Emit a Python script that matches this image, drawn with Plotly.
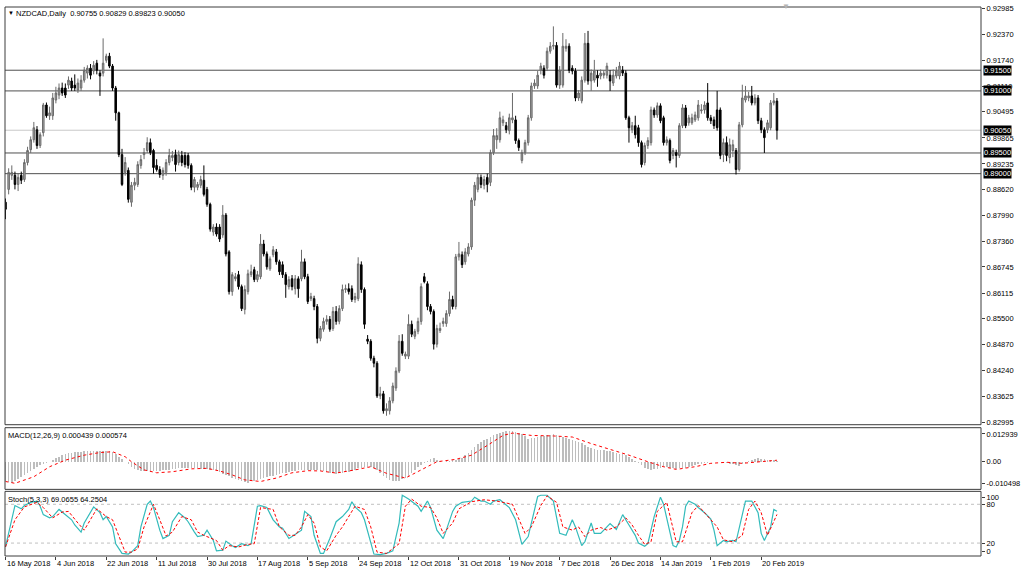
import plotly.graph_objects as go

# ---------------- data ----------------
bars = list(range(246))

open_ = [
    .8831, .8862, .8896, .8896, .8874, .8896, .8886, .8927, .8958, .8982,
    .9006, .8968, .8999, .9066, .9040, .9040, .9078, .9090, .9107, .9107,
    .9114, .9124, .9114, .9102, .9107, .9126, .9143, .9155, .9148, .9167,
    .9143, .9143, .9174, .9184, .9160, .9107, .9047, .8946, .8903, .8908,
    .8831, .8872, .8874, .8920, .8946, .8956, .8975, .8956, .8920, .8910,
    .8896, .8903, .8927, .8939, .8946, .8927, .8944, .8944, .8944, .8920,
    .8867, .8867, .8872, .8884, .8862, .8826, .8759, .8771, .8771, .8752,
    .8800, .8711, .8615, .8646, .8656, .8627, .8572, .8615, .8656, .8668,
    .8644, .8651, .8730, .8706, .8670, .8704, .8711, .8687, .8680, .8656,
    .8627, .8646, .8622, .8646, .8646, .8687, .8651, .8598, .8598, .8579,
    .8502, .8524, .8543, .8548, .8526, .8567, .8543, .8574, .8620, .8622,
    .8622, .8596, .8598, .8680, .8620, .8500, .8495, .8454, .8442, .8363,
    .8368, .8327, .8327, .8351, .8382, .8423, .8495, .8459, .8459, .8536,
    .8507, .8519, .8543, .8651, .8634, .8579, .8567, .8488, .8521, .8538,
    .8538, .8562, .8596, .8579, .8699, .8704, .8687, .8706, .8723, .8836,
    .8862, .8891, .8872, .8891, .8879, .8951, .8982, .8982, .9023, .9016,
    .9004, .9030, .9030, .8980, .8932, .8951, .8975, .9035, .9112, .9112,
    .9150, .9155, .9155, .9196, .9208, .9210, .9114, .9114, .9203, .9208,
    .9155, .9148, .9083, .9076, .9126, .9215, .9124, .9126, .9138, .9136,
    .9138, .9138, .9138, .9119, .9136, .9136, .9150, .9143, .9035, .9006,
    .9016, .9011, .8975, .8927, .8968, .8975, .9054, .9042, .9064, .9035,
    .8975, .8980, .8944, .8951, .8944, .9016, .9059, .9023, .9023, .9030,
    .9035, .9052, .9054, .9071, .9035, .9030, .9054, .9054, .8946, .8975,
    .8939, .8956, .8956, .8910, .9018, .9078, .9083, .9088, .9071, .9083,
    .9028, .9006, .9006, .9011, .9071, .90755,
]
high = [
    .8840, .8913, .8920, .8905, .8900, .8905, .8935, .8965, .8990, .9025,
    .9015, .9000, .9071, .9072, .9062, .9095, .9110, .9118, .9120, .9118,
    .9135, .9132, .9140, .9130, .9138, .9158, .9162, .9165, .9172, .9175,
    .9150, .9227, .9190, .9192, .9165, .9112, .9050, .8960, .8940, .8915,
    .8880, .8890, .8930, .8945, .8962, .8988, .8985, .8960, .8935, .8918,
    .8915, .8935, .8960, .8955, .8958, .8956, .8955, .8952, .8950, .8925,
    .8892, .8880, .8895, .8920, .8868, .8830, .8778, .8780, .8778, .8824,
    .8805, .8715, .8662, .8660, .8665, .8632, .8630, .8668, .8680, .8675,
    .8665, .8754, .8740, .8712, .8700, .8725, .8718, .8692, .8688, .8662,
    .8652, .8655, .8655, .8652, .8716, .8695, .8658, .8612, .8605, .8585,
    .8532, .8552, .8558, .8556, .8578, .8580, .8582, .8632, .8632, .8635,
    .8630, .8612, .8698, .8688, .8625, .8510, .8500, .8460, .8447, .8385,
    .8375, .8345, .8360, .8395, .8432, .8510, .8512, .8470, .8560, .8545,
    .8525, .8552, .8635, .8660, .8640, .8585, .8572, .8535, .8540, .8552,
    .8570, .8615, .8605, .8706, .8735, .8712, .8720, .8732, .8842, .8880,
    .8900, .8898, .8895, .8900, .8958, .9008, .9010, .9050, .9040, .9025,
    .9045, .9095, .9040, .8985, .8958, .8982, .9042, .9120, .9128, .9148,
    .9168, .9162, .9205, .9218, .9256, .9218, .9160, .9240, .9225, .9215,
    .9162, .9155, .9102, .9135, .9240, .9245, .9152, .9175, .9150, .9152,
    .9150, .9168, .9150, .9152, .9158, .9170, .9160, .9150, .9040, .9025,
    .9040, .9018, .8980, .8975, .8988, .9062, .9060, .9072, .9070, .9040,
    .8990, .8985, .8962, .8958, .9022, .9068, .9066, .9042, .9045, .9050,
    .9078, .9068, .9075, .9119, .9042, .9038, .9100, .9060, .8985, .8990,
    .8985, .8982, .8962, .9025, .9115, .9112, .9098, .9112, .9092, .9090,
    .9035, .9012, .9030, .9078, .9095, .90829,
]
low = [
    .8790, .8850, .8885, .8862, .8858, .8875, .8880, .8920, .8950, .8975,
    .8960, .8962, .8990, .9035, .9030, .9030, .9070, .9080, .9088, .9083,
    .9105, .9100, .9100, .9095, .9100, .9120, .9130, .9128, .9140, .9140,
    .9088, .9135, .9168, .9155, .9100, .9028, .8940, .8870, .8895, .8830,
    .8820, .8860, .8868, .8912, .8935, .8950, .8945, .8900, .8905, .8890,
    .8885, .8895, .8920, .8930, .8905, .8920, .8918, .8915, .8912, .8860,
    .8855, .8860, .8865, .8845, .8820, .8760, .8750, .8748, .8735, .8745,
    .8700, .8608, .8605, .8640, .8620, .8568, .8560, .8608, .8650, .8638,
    .8638, .8645, .8700, .8668, .8665, .8698, .8680, .8655, .8648, .8600,
    .8620, .8618, .8608, .8600, .8640, .8645, .8585, .8592, .8570, .8490,
    .8495, .8518, .8535, .8518, .8520, .8535, .8536, .8568, .8612, .8608,
    .8590, .8588, .8592, .8612, .8525, .8488, .8448, .8432, .8358, .8355,
    .8320, .8315, .8318, .8345, .8375, .8418, .8460, .8452, .8452, .8505,
    .8500, .8512, .8535, .8635, .8570, .8560, .8475, .8480, .8515, .8530,
    .8530, .8555, .8572, .8572, .8690, .8672, .8680, .8700, .8716, .8822,
    .8855, .8865, .8862, .8855, .8870, .8945, .8960, .8975, .9015, .8998,
    .8995, .9022, .8972, .8955, .8925, .8945, .8968, .9028, .9105, .9105,
    .9140, .9130, .9148, .9190, .9200, .9108, .9105, .9108, .9195, .9143,
    .9140, .9075, .9076, .9070, .9120, .9115, .9100, .9120, .9110, .9128,
    .9130, .9130, .9100, .9112, .9130, .9128, .9136, .9030, .8975, .8998,
    .8985, .8965, .8915, .8920, .8960, .8968, .9035, .9035, .9022, .8968,
    .8968, .8925, .8935, .8915, .8938, .9010, .9010, .9016, .9018, .9025,
    .9028, .9045, .9045, .9028, .9020, .9008, .9004, .8935, .8928, .8930,
    .8925, .8940, .8898, .8905, .9012, .9072, .9075, .9065, .9065, .9020,
    .8998, .8950, .8998, .9005, .9065, .89823,
]
close = [
    .8814, .8903, .8903, .8874, .8891, .8884, .8927, .8956, .8982, .9011,
    .8968, .8994, .9066, .9040, .9047, .9083, .9095, .9107, .9095, .9090,
    .9126, .9107, .9107, .9119, .9126, .9150, .9155, .9138, .9162, .9150,
    .9136, .9167, .9184, .9160, .9107, .9047, .8946, .8874, .8927, .8838,
    .8872, .8879, .8922, .8934, .8951, .8975, .8951, .8915, .8910, .8898,
    .8908, .8927, .8944, .8944, .8922, .8946, .8927, .8922, .8920, .8867,
    .8886, .8874, .8886, .8850, .8826, .8766, .8771, .8754, .8742, .8800,
    .8706, .8615, .8656, .8651, .8627, .8574, .8620, .8658, .8663, .8644,
    .8656, .8730, .8706, .8675, .8694, .8716, .8687, .8663, .8656, .8632,
    .8644, .8627, .8646, .8622, .8687, .8651, .8591, .8603, .8579, .8502,
    .8526, .8543, .8548, .8524, .8567, .8543, .8574, .8620, .8622, .8615,
    .8596, .8603, .8682, .8620, .8536, .8495, .8454, .8442, .8363, .8368,
    .8327, .8332, .8351, .8387, .8423, .8495, .8466, .8464, .8536, .8512,
    .8519, .8543, .8627, .8639, .8579, .8567, .8488, .8526, .8526, .8543,
    .8562, .8596, .8579, .8699, .8706, .8680, .8711, .8723, .8836, .8872,
    .8891, .8874, .8886, .8874, .8951, .8992, .8992, .9035, .9030, .9006,
    .9035, .9035, .8980, .8963, .8951, .8975, .9035, .9112, .9119, .9138,
    .9160, .9138, .9196, .9208, .9210, .9114, .9150, .9208, .9208, .9150,
    .9148, .9083, .9095, .9126, .9215, .9124, .9143, .9148, .9131, .9143,
    .9143, .9160, .9124, .9138, .9148, .9160, .9143, .9035, .9011, .9016,
    .8994, .8975, .8922, .8968, .8980, .9054, .9042, .9064, .9028, .8975,
    .8982, .8932, .8956, .8944, .9016, .9059, .9016, .9035, .9035, .9042,
    .9066, .9054, .9066, .9035, .9028, .9016, .9011, .8944, .8975, .8944,
    .8970, .8970, .8910, .9018, .9083, .9088, .9088, .9071, .9083, .9028,
    .9006, .8987, .9023, .9071, .9076, .90050,
]

# MACD main (histogram), in units of 1e-4
macd_main_x1e4 = [
    -75, -78, -79, -74, -67, -59, -50, -42, -35, -29,
    -21, -13, -8, -5, 0, 6, 13, 19, 26, 31,
    34, 35, 37, 38, 38, 39, 40, 41, 42, 42,
    42, 41, 40, 39, 38, 30, 19, 10, 0, -10,
    -19, -26, -31, -34, -35, -37, -38, -37, -36, -34,
    -33, -31, -30, -28, -26, -25, -25, -25, -24, -25,
    -25, -25, -26, -27, -29, -30, -31, -35, -40, -45,
    -50, -55, -60, -64, -69, -74, -78, -82, -75, -72,
    -69, -66, -62, -59, -56, -53, -50, -46, -44, -42,
    -39, -37, -34, -31, -30, -30, -31, -31, -31, -32,
    -34, -36, -38, -41, -44, -45, -44, -42, -40, -38,
    -34, -30, -25, -22, -21, -20, -19, -24, -32, -44,
    -53, -61, -69, -73, -75, -72, -67, -62, -53, -42,
    -31, -21, -11, -4, 3, 9, 13, 8, 3, 0,
    2, 3, 5, 6, 10, 14, 25, 35, 46, 57,
    66, 74, 82, 88, 94, 100, 105, 109, 113, 115,
    117, 115, 113, 110, 106, 96, 88, 90, 92, 94,
    97, 99, 102, 103, 104, 102, 99, 94, 91, 88,
    83, 79, 75, 70, 64, 57, 53, 50, 46, 44,
    44, 42, 39, 37, 34, 31, 29, 24, 19, 11,
    3, -5, -14, -25, -28, -31, -29, -26, -22, -19,
    -21, -23, -25, -26, -25, -24, -22, -19, -16, -13,
    -10, -9, -6, -4, -2, 0, -2, -2, -4, -6,
    -7, -9, -11, -16, -10, -4, 2, 6, 10, 13,
    11, 9, 7, 6, 5, 4.39,
]
# MACD signal line, read at these bars (units of 1e-4)
macd_sig_bar = [0, 3, 9, 14, 19, 25, 30, 34, 38, 40,
                44, 48, 53, 59, 64, 68, 72, 76, 81, 86,
                91, 96, 100, 105, 111, 116, 121, 127, 132, 137,
                143, 148, 153, 158, 161, 167, 174, 180, 186, 193,
                198, 204, 209, 213, 219, 224, 229, 234, 240, 245]
macd_sig_x1e4 = [-75, -82, -57, -19, 6, 25, 35, 38, 19, 0,
                 -31, -42, -38, -27, -25, -35, -50, -69, -75, -62,
                 -42, -34, -35, -43, -31, -19, -44, -62, -31, 0,
                 9, 25, 62, 100, 109, 100, 98, 94, 69, 44,
                 25, 0, -19, -29, -19, -6, -2, -6, 0, 5.74]

# Stochastic %K read at these bars
stoch_k_bar = [0, 1, 2, 3, 5, 6, 8, 10, 11, 12,
               14, 15, 17, 19, 21, 22, 24, 25, 28, 30,
               31, 32, 34, 35, 37, 39, 40, 42, 43, 45,
               46, 47, 49, 50, 52, 53, 55, 57, 58, 60,
               61, 63, 64, 66, 67, 69, 70, 72, 73, 75,
               77, 78, 80, 81, 83, 85, 87, 88, 90, 91,
               94, 95, 97, 98, 100, 101, 103, 105, 107, 109,
               110, 111, 113, 114, 116, 117, 119, 121, 123, 125,
               126, 128, 131, 132, 134, 135, 137, 139, 140, 142,
               143, 145, 148, 149, 151, 152, 154, 155, 157, 158,
               160, 162, 163, 164, 166, 168, 169, 170, 172, 174,
               175, 176, 178, 180, 181, 183, 184, 186, 187, 189,
               191, 192, 194, 196, 198, 200, 201, 203, 204, 206,
               208, 209, 211, 212, 213, 214, 215, 216, 217, 219,
               220, 222, 224, 225, 226, 228, 229, 231, 232, 234,
               235, 237, 239, 240, 241, 243, 244, 245]
stoch_k = [14, 35, 61, 78, 73, 78, 83, 85, 77, 64,
           59, 61, 72, 64, 56, 48, 37, 51, 76, 67,
           56, 61, 45, 19, 4, 3, 6, 16, 45, 80,
           85, 75, 40, 27, 32, 53, 67, 59, 53, 37,
           30, 32, 40, 24, 8, 9, 23, 16, 13, 19,
           16, 19, 77, 78, 75, 56, 45, 43, 27, 30,
           40, 69, 61, 32, 4, 4, 27, 53, 61, 72,
           84, 76, 67, 56, 19, 3, 2, 4, 8, 51,
           94, 88, 77, 69, 85, 75, 40, 27, 40, 69,
           77, 83, 85, 91, 85, 85, 80, 85, 87, 83,
           75, 56, 35, 18, 30, 72, 92, 94, 94, 85,
           61, 35, 32, 56, 45, 16, 22, 51, 35, 35,
           45, 50, 41, 64, 48, 32, 20, 15, 19, 61,
           91, 80, 37, 16, 14, 24, 45, 77, 85, 80,
           75, 67, 57, 40, 16, 24, 22, 24, 22, 64,
           85, 85, 67, 35, 24, 45, 72, 69.07]
# Stochastic %D read at these bars
stoch_d_bar = [0, 3, 6, 10, 12, 15, 18, 20, 23, 25,
               29, 32, 34, 36, 38, 40, 42, 44, 47, 49,
               51, 53, 56, 59, 61, 63, 67, 69, 71, 74,
               77, 79, 81, 85, 87, 90, 92, 94, 96, 98,
               100, 102, 105, 107, 109, 111, 114, 116, 118, 121,
               125, 127, 129, 132, 135, 137, 139, 142, 144, 148,
               152, 156, 161, 163, 165, 167, 170, 172, 175, 177,
               180, 182, 184, 186, 189, 191, 194, 197, 199, 201,
               203, 205, 207, 210, 212, 213, 215, 218, 220, 223,
               226, 228, 231, 234, 236, 238, 240, 242, 245]
stoch_d = [14, 56, 76, 83, 75, 59, 68, 69, 51, 40,
           73, 61, 56, 32, 6, 6, 11, 45, 80, 56,
           31, 37, 61, 56, 37, 32, 24, 9, 16, 14,
           18, 19, 75, 72, 45, 32, 32, 45, 64, 51,
           14, 8, 32, 45, 61, 77, 72, 45, 6, 4,
           19, 77, 88, 77, 75, 59, 35, 51, 73, 84,
           87, 85, 80, 56, 35, 45, 78, 93, 83, 45,
           40, 45, 30, 40, 44, 40, 45, 59, 48, 32,
           18, 22, 69, 83, 44, 22, 22, 67, 78, 62,
           45, 25, 22, 32, 72, 85, 67, 32, 64.25]

price_ticks = [0.92985, 0.92370, 0.91740, 0.91110, 0.90495, 0.89865, 0.89235,
               0.88620, 0.87990, 0.87360, 0.86745, 0.86115, 0.85500, 0.84870,
               0.84240, 0.83625, 0.82995]
price_range = [0.82933, 0.93028]
level_lines = [0.91500, 0.91000, 0.89500, 0.89000]
bid_price = 0.90050
date_tick_bars = [0, 16, 32, 48, 64, 80, 96, 112, 128, 144, 160, 176, 192, 208, 224, 240]
date_labels = ["16 May 2018", "4 Jun 2018", "22 Jun 2018", "11 Jul 2018", "30 Jul 2018",
               "17 Aug 2018", "5 Sep 2018", "24 Sep 2018", "12 Oct 2018", "31 Oct 2018",
               "19 Nov 2018", "7 Dec 2018", "26 Dec 2018", "14 Jan 2019", "1 Feb 2019",
               "20 Feb 2019"]
macd_max, macd_min = 0.012939, -0.010498

macd_main = [v * 1e-4 for v in macd_main_x1e4]
macd_sig = [v * 1e-4 for v in macd_sig_x1e4]

# ---------------- layout geometry ----------------
W, H = 1024, 574
ML, MR, MT, MB = 5, 38, 4, 18
PH = H - MT - MB  # 552


def dom(top_px, bot_px):
    return [(H - MB - bot_px) / PH, (H - MB - top_px) / PH]


main_dom = dom(4, 424)
macd_dom = dom(427, 489)
stoch_dom = dom(491, 556)

FONT = "Liberation Sans, Arial, sans-serif"
FS = 7.5

fig = go.Figure()
fig.add_trace(go.Candlestick(
    x=bars, open=open_, high=high, low=low, close=close,
    xaxis="x", yaxis="y", whiskerwidth=0,
    increasing=dict(line=dict(color="#6a6a6a", width=1), fillcolor="#a4a4a4"),
    decreasing=dict(line=dict(color="#000000", width=1), fillcolor="#000000"),
    showlegend=False, hoverinfo="skip"))
fig.add_trace(go.Bar(
    x=bars, y=macd_main, xaxis="x", yaxis="y2", width=0.5,
    marker=dict(color="#bdbdbd", line=dict(width=0)), showlegend=False, hoverinfo="skip"))
fig.add_trace(go.Scatter(
    x=macd_sig_bar, y=macd_sig, xaxis="x", yaxis="y2", mode="lines",
    line=dict(color="#ff0000", width=1, dash="dot"), showlegend=False, hoverinfo="skip"))
fig.add_trace(go.Scatter(
    x=stoch_k_bar, y=stoch_k, xaxis="x", yaxis="y3", mode="lines",
    line=dict(color="#33bbbb", width=1.2), showlegend=False, hoverinfo="skip"))
fig.add_trace(go.Scatter(
    x=stoch_d_bar, y=stoch_d, xaxis="x", yaxis="y3", mode="lines",
    line=dict(color="#ff0000", width=1, dash="3px,2px"), showlegend=False, hoverinfo="skip"))

shapes = []
for d in (main_dom, macd_dom, stoch_dom):
    shapes.append(dict(type="rect", xref="paper", yref="paper", x0=0, x1=1, y0=d[0], y1=d[1],
                       line=dict(color="#3c3c3c", width=1), layer="above"))
for lv in level_lines:
    shapes.append(dict(type="line", xref="paper", yref="y", x0=0, x1=1, y0=lv, y1=lv,
                       line=dict(color="#505050", width=1), layer="below"))
shapes.append(dict(type="line", xref="paper", yref="y", x0=0, x1=1, y0=bid_price, y1=bid_price,
                   line=dict(color="#c8c8c8", width=1), layer="below"))
for lv in (80, 20):
    shapes.append(dict(type="line", xref="paper", yref="y3", x0=0, x1=1, y0=lv, y1=lv,
                       line=dict(color="#c0c0c0", width=1, dash="3px,3px"), layer="below"))

annotations = []
# title
annotations.append(dict(xref="paper", yref="paper", x=0, y=1, xanchor="left", yanchor="middle",
                        xshift=1, yshift=-6, text="▼", showarrow=False,
                        font=dict(family=FONT, size=6, color="#000000")))
annotations.append(dict(xref="paper", yref="paper", x=0, y=1, xanchor="left", yanchor="middle",
                        xshift=9, yshift=-6, showarrow=False,
                        text="NZDCAD,Daily  0.90755 0.90829 0.89823 0.90050",
                        font=dict(family=FONT, size=FS, color="#000000")))
# chart shift marker
annotations.append(dict(xref="paper", yref="paper", x=(790 - ML) / (W - ML - MR), y=1,
                        xanchor="center", yanchor="middle", yshift=1, text="▼", showarrow=False,
                        font=dict(family=FONT, size=8, color="#b4b4b4")))
annotations.append(dict(xref="paper", yref="paper", x=0, y=macd_dom[1], xanchor="left",
                        yanchor="middle", xshift=1, yshift=-8, showarrow=False,
                        text="MACD(12,26,9) 0.000439 0.000574",
                        font=dict(family=FONT, size=FS, color="#000000")))
annotations.append(dict(xref="paper", yref="paper", x=0, y=stoch_dom[1], xanchor="left",
                        yanchor="middle", xshift=1, yshift=-8, showarrow=False,
                        text="Stoch(5,3,3) 69.0655 64.2504",
                        font=dict(family=FONT, size=FS, color="#000000")))
# price-level boxes on the right
for lv, txt in [(0.91500, "0.91500"), (0.91000, "0.91000"), (bid_price, "0.90050"),
                (0.89500, "0.89500"), (0.89000, "0.89000")]:
    annotations.append(dict(xref="paper", yref="y", x=1, y=lv, xanchor="left", yanchor="middle",
                            xshift=2, text=txt, showarrow=False, bgcolor="#000000", borderpad=0,
                            font=dict(family=FONT, size=FS, color="#ffffff")))
# date labels (left-aligned at ticks)
for b, lab in zip(date_tick_bars, date_labels):
    annotations.append(dict(xref="x", yref="paper", x=b, y=0, xanchor="left", yanchor="top",
                            xshift=-1, yshift=-1, text=lab, showarrow=False,
                            font=dict(family=FONT, size=FS, color="#000000")))

mpx = (macd_max - macd_min) / 62.0
spx = 100.0 / 65.0

fig.update_layout(
    width=W, height=H, margin=dict(l=ML, r=MR, t=MT, b=MB),
    paper_bgcolor="#ffffff", plot_bgcolor="#ffffff",
    showlegend=False, hovermode=False, bargap=0,
    font=dict(family=FONT, size=FS, color="#000000"),
    xaxis=dict(domain=[0, 1], anchor="y3", range=[-0.16, 309.8],
               tickvals=date_tick_bars, ticks="outside", ticklen=3, tickcolor="#3c3c3c",
               showticklabels=False, showgrid=False, zeroline=False, showline=False,
               rangeslider=dict(visible=False), fixedrange=True),
    yaxis=dict(domain=main_dom, anchor="x", side="right", range=price_range,
               tickvals=price_ticks, ticktext=[f"{v:.5f}" for v in price_ticks],
               ticklabeloverflow="allow",
               ticks="outside", ticklen=3, tickcolor="#3c3c3c", showgrid=False,
               zeroline=False, showline=False, tickfont=dict(family=FONT, size=FS)),
    yaxis2=dict(domain=macd_dom, anchor="x", side="right", range=[macd_min, macd_max],
                tickvals=[macd_max - 6.3 * mpx, 0, macd_min + 5.7 * mpx],
                ticktext=["0.012939", "0.00", "-0.010498"], ticklabeloverflow="allow",
                ticks="outside", ticklen=3, tickcolor="#3c3c3c", showgrid=False,
                zeroline=False, showline=False, tickfont=dict(family=FONT, size=FS)),
    yaxis3=dict(domain=stoch_dom, anchor="x", side="right", range=[0, 100],
                tickvals=[100 - 5.7 * spx, 80, 20, 5 * spx],
                ticktext=["100", "80", "20", "0"], ticklabeloverflow="allow",
                ticks="outside", ticklen=3, tickcolor="#3c3c3c", showgrid=False,
                zeroline=False, showline=False, tickfont=dict(family=FONT, size=FS)),
    shapes=shapes, annotations=annotations,
)

fig.write_html("out.html", config={"displayModeBar": False, "staticPlot": True},
               post_script="document.body.style.margin='0';document.body.style.overflow='hidden';")
